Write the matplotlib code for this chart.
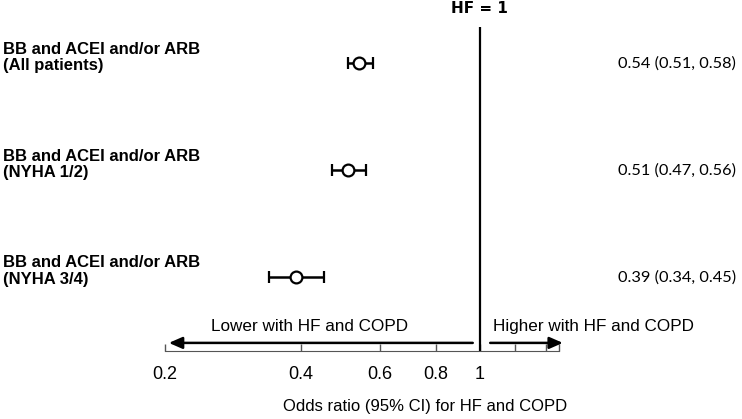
import matplotlib.pyplot as plt
from matplotlib.ticker import FixedLocator, NullFormatter, FixedFormatter

# forest plot data
groups = ["BB and ACEI and/or ARB\n(All patients)",
          "BB and ACEI and/or ARB\n(NYHA 1/2)",
          "BB and ACEI and/or ARB\n(NYHA 3/4)"]
odds = [0.54, 0.51, 0.39]
lower = [0.51, 0.47, 0.34]
upper = [0.58, 0.56, 0.45]
tick_vals = [0.2, 0.4, 0.6, 0.8, 1, 1.2, 1.4, 1.5]
tick_labels = ["0.2", "0.4", "0.6", "0.8", "1", "", "", ""]

fig = plt.figure(figsize=(7.42, 4.19), dpi=100)
ax = fig.add_axes([165 / 742, 1 - 351 / 419, 394 / 742, 324 / 419])

rows = list(range(len(groups)))
xerr = [[o - l for o, l in zip(odds, lower)], [u - o for o, u in zip(odds, upper)]]
ax.errorbar(odds, rows, xerr=xerr, fmt="o", color="black", mfc="white", mec="black",
            ms=8.5, mew=1.6, elinewidth=1.8, capsize=4.2, capthick=1.8, zorder=3)

ax.set_xscale("log")
ax.set_xlim(0.2, 1.5)
ax.set_ylim(2.69, -0.34)
ax.xaxis.set_major_locator(FixedLocator(tick_vals))
ax.xaxis.set_major_formatter(FixedFormatter(tick_labels))
ax.xaxis.set_minor_formatter(NullFormatter())
ax.xaxis.set_minor_locator(FixedLocator([]))
ax.tick_params(axis="x", direction="in", length=5, width=1, color="#555555",
               labelsize=13, pad=11)
ax.set_yticks([])
for s in ["top", "right", "left"]:
    ax.spines[s].set_visible(False)
ax.spines["bottom"].set_color("#555555")
for lab in ax.get_xticklabels():
    lab.set_fontfamily("Liberation Sans")

ax.axvline(1, color="black", lw=1.6, zorder=2)
ax.annotate("HF = 1", xy=(1, 1), xycoords=("data", "axes fraction"),
            xytext=(0, 11), textcoords="offset pixels", ha="center", va="bottom",
            fontsize=11, fontweight="bold", family="Liberation Sans Narrow")

ax.set_xlabel("Odds ratio (95% CI) for HF and COPD", fontsize=12,
              family="Liberation Sans")
ax.xaxis.set_label_coords((425 - 165) / 394, -(399 - 351) / 324)

for r, g in zip(rows, groups):
    ax.annotate(g, xy=(-162 / 394, r), xycoords=("axes fraction", "data"),
                xytext=(0, 6), textcoords="offset pixels", ha="left", va="center",
                fontsize=12, fontweight="bold", family="Liberation Sans",
                linespacing=1.12)
for r, o, l, u in zip(rows, odds, lower, upper):
    ax.annotate(f"{o:.2f} ({l:.2f}, {u:.2f})", xy=(736 / 394 - 165 / 394, r),
                xycoords=("axes fraction", "data"), ha="right", va="center",
                fontsize=11.8, family="Lato")

# direction arrows
arrow = dict(arrowstyle="-|>,head_length=0.8,head_width=0.35",
             lw=1.8, color="black", shrinkA=0, shrinkB=0)
ax.annotate("", xy=(0.204, 0.025), xytext=(0.965, 0.025),
            xycoords=("data", "axes fraction"), arrowprops=arrow)
ax.annotate("", xy=(1.53, 0.025), xytext=(1.055, 0.025),
            xycoords=("data", "axes fraction"), arrowprops=arrow,
            annotation_clip=False)
ax.annotate("Lower with HF and COPD", xy=((310 - 165) / 394, 0.077),
            xycoords="axes fraction", ha="center", va="center",
            fontsize=12.3, family="Liberation Sans")
ax.annotate("Higher with HF and COPD", xy=((493 - 165) / 394, 0.077),
            xycoords="axes fraction", ha="left", va="center",
            fontsize=12.3, family="Liberation Sans", annotation_clip=False)

fig.savefig("out.png", dpi=100)
